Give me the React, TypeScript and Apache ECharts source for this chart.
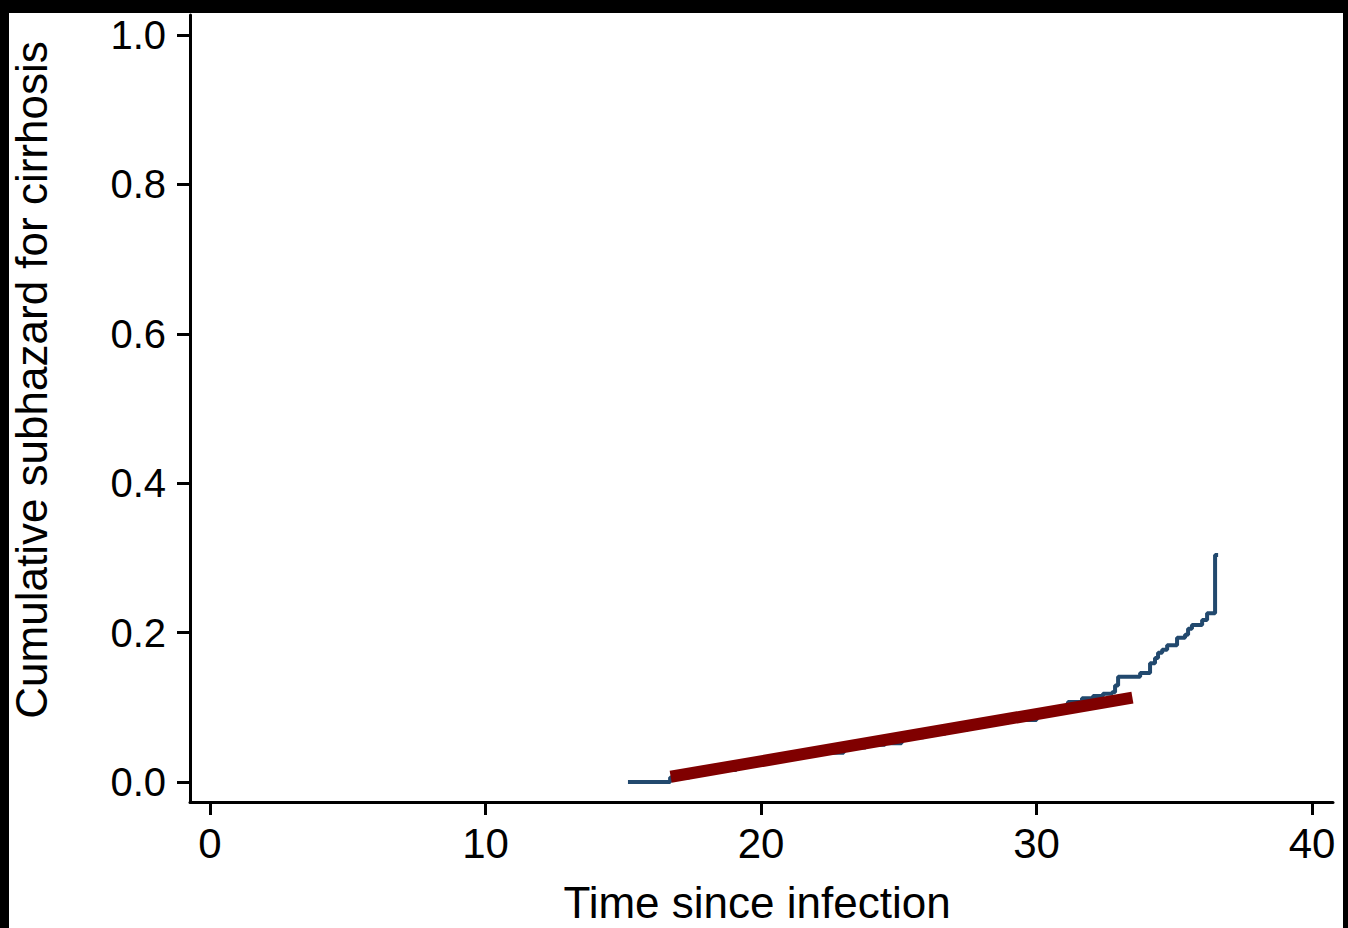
import React, { useEffect, useRef } from "react";
import * as echarts from "echarts";

// Cumulative subhazard estimate (step function): event times and values after each jump
const stepTimes = [
  15.17, 16.7, 17.4, 18.1, 19.1, 19.9, 20.7, 21.5, 22.2, 23.0, 23.8, 24.5,
  25.1, 25.9, 26.7, 27.5, 28.3, 29.0, 30.0, 30.6, 31.14, 31.65, 32.05, 32.41,
  32.74, 32.85, 32.96, 33.76, 34.12, 34.3, 34.41, 34.56, 34.74, 35.1, 35.39,
  35.5, 35.64, 36.01, 36.19, 36.48, 36.59,
];
const stepValues = [
  0, 0.006, 0.012, 0.016, 0.023, 0.028, 0.033, 0.038, 0.039, 0.046, 0.05,
  0.052, 0.06, 0.065, 0.07, 0.075, 0.08, 0.083, 0.091, 0.097, 0.107, 0.112,
  0.115, 0.118, 0.12, 0.129, 0.141, 0.146, 0.159, 0.166, 0.173, 0.177, 0.183,
  0.193, 0.197, 0.205, 0.21, 0.217, 0.226, 0.304, 0.304,
];

// Fitted trend line end points
const fitTimes = [16.72, 33.48];
const fitValues = [0.007, 0.113];

// Tick positions
const xTicks = [0, 10, 20, 30, 40];
const yTicks = [0, 0.2, 0.4, 0.6, 0.8, 1.0];

const FONT = "'Liberation Sans', Arial, sans-serif";

export default function App() {
  const ref = useRef<HTMLDivElement>(null);

  useEffect(() => {
    document.body.style.margin = "0";
    if (!ref.current) return;
    const chart = echarts.init(ref.current, null, { renderer: "svg" });

    const stepData = stepTimes.map((t, i) => [t, stepValues[i]]);
    const fitData = fitTimes.map((t, i) => [t, fitValues[i]]);

    chart.setOption({
      animation: false,
      backgroundColor: "#ffffff",
      grid: {
        left: 190,
        right: 15,
        top: 15,
        bottom: 126,
        containLabel: false,
        outerBoundsMode: "none",
      },
      xAxis: {
        type: "value",
        min: -0.726,
        max: 40.76,
        splitLine: { show: false },
        axisLine: { show: true, onZero: false, lineStyle: { color: "#000", width: 3 } },
        axisTick: {
          show: true,
          length: 13,
          customValues: xTicks,
          lineStyle: { color: "#000", width: 3 },
        },
        axisLabel: {
          customValues: xTicks,
          margin: 20,
          color: "#000",
          fontSize: 42,
          fontFamily: FONT,
        },
      },
      yAxis: {
        type: "value",
        min: -0.0268,
        max: 1.0268,
        splitLine: { show: false },
        axisLine: { show: true, onZero: false, lineStyle: { color: "#000", width: 3 } },
        axisTick: {
          show: true,
          length: 13,
          customValues: yTicks,
          lineStyle: { color: "#000", width: 3 },
        },
        axisLabel: {
          customValues: yTicks,
          margin: 24,
          color: "#000",
          fontSize: 40,
          fontFamily: FONT,
          formatter: (v: number) => v.toFixed(1),
        },
      },
      series: [
        {
          type: "line",
          data: stepData,
          step: "end",
          symbol: "none",
          lineStyle: { color: "#22496e", width: 4 },
          z: 2,
        },
        {
          type: "line",
          data: fitData,
          symbol: "none",
          lineStyle: { color: "#800000", width: 12, cap: "butt" },
          z: 3,
        },
      ],
      graphic: [
        {
          type: "text",
          x: 757,
          y: 902,
          style: {
            text: "Time since infection",
            fontSize: 44,
            fontFamily: FONT,
            fill: "#000",
            align: "center",
            verticalAlign: "middle",
          },
        },
        {
          type: "text",
          x: 31,
          y: 380,
          rotation: Math.PI / 2,
          style: {
            text: "Cumulative subhazard for cirrhosis",
            fontSize: 44,
            fontFamily: FONT,
            fill: "#000",
            align: "center",
            verticalAlign: "middle",
          },
        },
        // frame edges
        { type: "rect", shape: { x: 0, y: 0, width: 1348, height: 13 }, style: { fill: "#000" }, z: 100 },
        { type: "rect", shape: { x: 0, y: 0, width: 9, height: 928 }, style: { fill: "#000" }, z: 100 },
        { type: "rect", shape: { x: 1343, y: 0, width: 5, height: 928 }, style: { fill: "#000" }, z: 100 },
      ],
    });

    return () => chart.dispose();
  }, []);

  return <div ref={ref} style={{ width: 1348, height: 928 }} />;
}
